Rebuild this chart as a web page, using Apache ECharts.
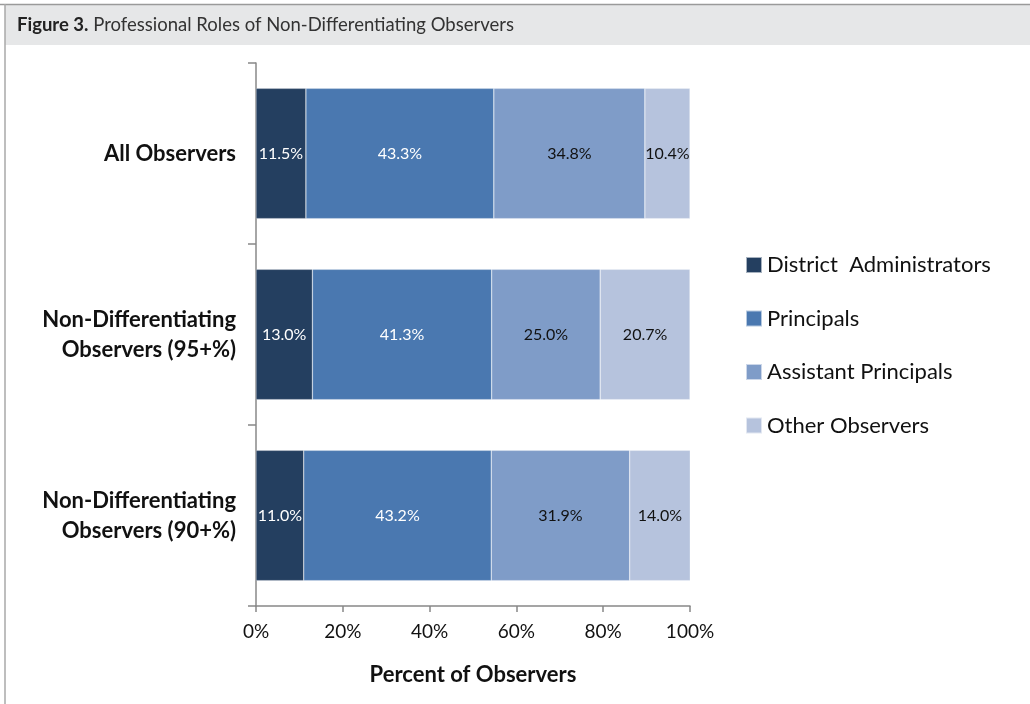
<!DOCTYPE html>
<html lang="en">
  <head>
    <meta charset="UTF-8">
    <title>Figure 3</title>
    <script src="https://cdn.jsdelivr.net/npm/echarts@6/dist/echarts.min.js"></script>
    <style>
      html, body { margin: 0; padding: 0; background: #fff; }
    </style>
  </head>
  <body>
    <div id="main" style="width: 1030px;height:704px;"></div>
    <script type="text/javascript">
      // data
      var categories = ['All Observers', 'Non-Differentiating\nObservers (95+%)', 'Non-Differentiating\nObservers (90+%)'];
      var seriesNames = ['District  Administrators', 'Principals', 'Assistant Principals', 'Other Observers'];
      var districtAdmins = [11.5, 13.0, 11.0];
      var principals = [43.3, 41.3, 43.2];
      var assistantPrincipals = [34.8, 25.0, 31.9];
      var otherObservers = [10.4, 20.7, 14.0];
      var colors = ['#243f60', '#4a78b0', '#7f9cc8', '#b6c3dd'];
      var labelColors = ['#fff', '#fff', '#111', '#111'];
      var font = 'Lato, "Open Sans", sans-serif';

      var values = [districtAdmins, principals, assistantPrincipals, otherObservers];
      var series = values.map(function (vals, i) {
        return {
          name: seriesNames[i],
          type: 'bar',
          stack: 'total',
          barWidth: '72%',
          data: vals,
          itemStyle: { color: colors[i], borderColor: 'rgba(255,255,255,0.6)', borderWidth: 0.5 },
          label: {
            show: true,
            position: 'inside',
            color: labelColors[i],
            fontFamily: font,
            fontSize: 16,
            formatter: function (p) { return p.value.toFixed(1) + '%'; }
          }
        };
      });

      var myChart = echarts.init(document.getElementById('main'));
      myChart.setOption({
        animation: false,
        graphic: [
          { type: 'rect', shape: { x: 5, y: 5, width: 1030, height: 40 }, style: { fill: '#e6e7e8' } },
          { type: 'line', shape: { x1: 0, y1: 4.5, x2: 1030, y2: 4.5 }, style: { stroke: '#9a9a9a', lineWidth: 1.5 } },
          { type: 'line', shape: { x1: 5, y1: 4, x2: 5, y2: 704 }, style: { stroke: '#a8a8a8', lineWidth: 1.5 } },
          {
            type: 'text', left: 17, top: 16,
            style: {
              text: '{b|Figure 3.} Professional Roles of Non-Differentiating Observers',
              rich: {
                b: { fontWeight: 'bold', fontSize: 18.5, fontFamily: font, fill: '#222' }
              },
              fontSize: 18.5, fontFamily: font, fill: '#333'
            }
          }
        ],
        legend: {
          orient: 'vertical',
          left: 745,
          top: 254,
          padding: 0,
          itemWidth: 16,
          itemHeight: 16,
          itemGap: 31.5,
          icon: 'rect',
          data: seriesNames,
          textStyle: { fontSize: 22, fontFamily: font, color: '#111' }
        },
        grid: { left: 256, right: 340, top: 63, bottom: 98 },
        xAxis: {
          type: 'value',
          min: 0,
          max: 100,
          interval: 20,
          name: 'Percent of Observers',
          nameLocation: 'middle',
          nameGap: 58,
          nameTextStyle: { fontSize: 22, fontWeight: 'bold', fontFamily: font, color: '#111' },
          axisLine: { show: true, lineStyle: { color: '#888', width: 1.5 } },
          axisTick: { show: true, length: 6, lineStyle: { color: '#888', width: 1.5 } },
          splitLine: { show: false },
          axisLabel: {
            fontSize: 19, fontFamily: font, color: '#111', margin: 16,
            formatter: function (v) { return v + '%'; }
          }
        },
        yAxis: {
          type: 'category',
          inverse: true,
          data: categories,
          axisLine: { show: true, lineStyle: { color: '#888', width: 1.5 } },
          axisTick: { show: true, length: 8, lineStyle: { color: '#888', width: 1.5 } },
          axisLabel: {
            fontSize: 22, fontWeight: 'bold', fontFamily: font, color: '#111',
            margin: 20, lineHeight: 30, align: 'right'
          }
        },
        series: series
      });
    </script>
  </body>
</html>
